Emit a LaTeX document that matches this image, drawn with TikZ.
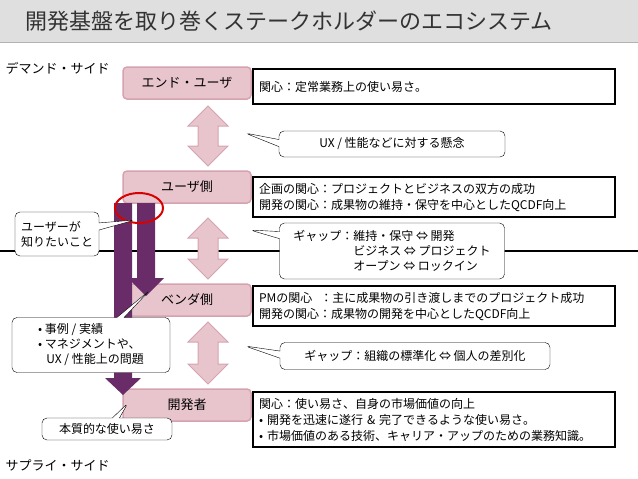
\documentclass[tikz,border=0pt]{standalone}
\usepackage{fontspec}
\setmainfont{Noto Sans CJK JP}
\usetikzlibrary{shapes.callouts}
\definecolor{pinkf}{HTML}{E8C5CD}
\definecolor{pinkd}{HTML}{D5A3B0}
\definecolor{purp}{HTML}{6A2C68}
\begin{document}
\begin{tikzpicture}[x=1pt,y=-1pt,
 role/.style={draw=pinkd,line width=1.5pt,fill=pinkf,rounded corners=4pt,minimum width=128pt,minimum height=32pt,font=\fontsize{13}{15}\selectfont},
 info/.style={draw=black,line width=2pt,fill=white,align=left,anchor=north west,inner sep=6pt,font=\fontsize{12}{16}\selectfont,text width=#1},
 call/.style={rectangle callout,draw=black,fill=white,rounded corners=5pt,font=\fontsize{12}{15}\selectfont,align=left,inner sep=4pt},
 dbl/.style={draw=pinkd,fill=pinkf,line width=1pt},
 parr/.style={fill=purp,draw=none}]
\useasboundingbox (0,0) rectangle (638,479);
\fill[gray!25] (0,0) rectangle (638,42);
\draw[gray!60,line width=1pt] (0,42) -- (638,42);
\node[anchor=west,font=\fontsize{22}{24}\selectfont,text=black!80] (title) at (22,21) {開発基盤を取り巻くステークホルダーのエコシステム};
\node[anchor=west,font=\fontsize{13}{15}\selectfont] (dem) at (2,68) {デマンド・サイド};
\node[anchor=west,font=\fontsize{13}{15}\selectfont] (sup) at (2,465) {サプライ・サイド};
\draw[line width=1.5pt] (0,251) -- (638,251);
% double arrows
\foreach \a/\b in {106/166,218/279,322/384}{
 \draw[dbl] (208,\a) -- (228,\a+20) -- (218,\a+20) -- (218,\b-20) -- (228,\b-20) -- (208,\b) -- (188,\b-20) -- (198,\b-20) -- (198,\a+20) -- (188,\a+20) -- cycle;}
\node[role] (eu) at (187,83) {エンド・ユーザ};
\node[role] (us) at (187,187) {ユーザ側};
\node[role] (vs) at (187,300) {ベンダ側};
\node[role] (dv) at (187,405) {開発者};
\node[info=350pt,minimum height=35pt] (i1) at (252,68) {関心：定常業務上の使い易さ。};
\node[info=350pt] (i2) at (252,176) {企画の関心：プロジェクトとビジネスの双方の成功\\開発の関心：成果物の維持・保守を中心としたQCDF向上};
\node[info=350pt] (i3) at (252,285) {PMの関心\ \ ：主に成果物の引き渡しまでのプロジェクト成功\\開発の関心：成果物の開発を中心としたQCDF向上};
\node[info=350pt] (i4) at (252,391) {関心：使い易さ、自身の市場価値の向上\\• 開発を迅速に遂行 \& 完了できるような使い易さ。\\• 市場価値のある技術、キャリア・アップのための業務知識。};
\node[call,minimum width=226pt,minimum height=26pt,align=center,callout absolute pointer={(245,133)}] (c1) at (392,144) {UX / 性能などに対する懸念};
\node[call,minimum width=225pt,minimum height=56pt,callout absolute pointer={(250,230)}] (c2) at (392,251) {ギャップ：維持・保守 ⇔ 開発\\\phantom{ギャップ：}ビジネス ⇔ プロジェクト\\\phantom{ギャップ：}オープン ⇔ ロックイン};
\node[call,minimum width=270pt,minimum height=27pt,align=center,callout absolute pointer={(245,346)}] (c3) at (415,356) {ギャップ：組織の標準化 ⇔ 個人の差別化};
% purple arrows
\fill[parr] (114,203) -- (132,203) -- (132,378) -- (141,378) -- (123,395) -- (105,378) -- (114,378) -- cycle;
\fill[parr] (137,203) -- (155,203) -- (155,278) -- (164,278) -- (146,296) -- (128,278) -- (137,278) -- cycle;
\draw[red!85!black,line width=2pt] (139,208) ellipse (24 and 15);
\node[call,minimum width=84pt,minimum height=44pt,callout absolute pointer={(135,220)}] (k1) at (57,234) {ユーザーが\\知りたいこと};
\node[call,minimum width=158pt,minimum height=55pt,callout absolute pointer={(150,290)}] (k2) at (91,345) {• 事例 / 実績\\• マネジメントや、\\\ \ \ UX / 性能上の問題};
\node[call,minimum width=130pt,minimum height=22pt,align=center,callout absolute pointer={(128,403)}] (k3) at (107,429) {本質的な使い易さ};
\end{tikzpicture}
\end{document}
